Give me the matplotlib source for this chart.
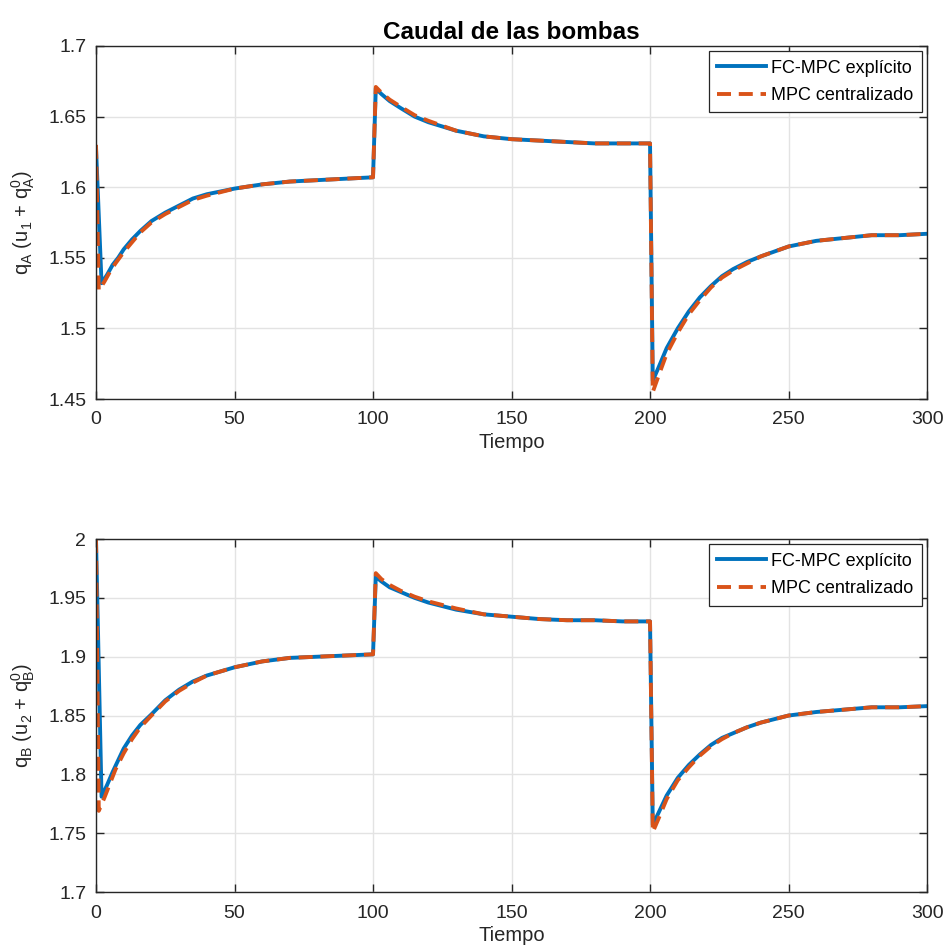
import matplotlib
matplotlib.use("Agg")
import matplotlib.pyplot as plt

plt.rcParams['font.family'] = ['Liberation Sans', 'DejaVu Sans']
plt.rcParams['mathtext.fontset'] = 'custom'
plt.rcParams['mathtext.rm'] = 'Liberation Sans'
plt.rcParams['mathtext.it'] = 'Liberation Sans'
plt.rcParams['mathtext.default'] = 'regular'

# bomba A: caudal total
t_a_fc = [0, 2, 4, 6, 8, 10, 13, 16, 20, 25, 30, 35, 40, 50, 60, 70, 80, 90, 100,
          101, 103, 106, 110, 115, 120, 130, 140, 150, 160, 170, 180, 190, 200,
          201, 203, 206, 210, 214, 218, 222, 226, 230, 235, 240, 250, 260, 270, 280, 290, 300]
qa_fc = [1.628, 1.532, 1.538, 1.545, 1.550, 1.556, 1.563, 1.569, 1.576, 1.582, 1.587, 1.592, 1.595, 1.599, 1.602, 1.604, 1.605, 1.606, 1.607,
         1.670, 1.666, 1.661, 1.656, 1.650, 1.646, 1.640, 1.636, 1.634, 1.633, 1.632, 1.631, 1.631, 1.631,
         1.463, 1.472, 1.486, 1.500, 1.512, 1.522, 1.530, 1.537, 1.542, 1.547, 1.551, 1.558, 1.562, 1.564, 1.566, 1.566, 1.567]

t_a_mpc = [0, 1, 3, 5, 7, 10, 13, 16, 20, 25, 30, 35, 40, 50, 60, 70, 80, 90, 100,
           101, 103, 106, 110, 115, 120, 130, 140, 150, 160, 170, 180, 190, 200,
           201, 203, 206, 210, 214, 218, 222, 226, 230, 235, 240, 250, 260, 270, 280, 290, 300]
qa_mpc = [1.630, 1.527, 1.533, 1.540, 1.546, 1.554, 1.561, 1.568, 1.575, 1.581, 1.586, 1.591, 1.594, 1.599, 1.602, 1.604, 1.605, 1.606, 1.607,
          1.671, 1.667, 1.662, 1.657, 1.651, 1.647, 1.640, 1.636, 1.634, 1.633, 1.632, 1.631, 1.631, 1.631,
          1.455, 1.466, 1.482, 1.497, 1.510, 1.520, 1.529, 1.536, 1.541, 1.546, 1.551, 1.558, 1.562, 1.564, 1.566, 1.566, 1.567]

# bomba B: caudal total
t_b_fc = [0, 2, 4, 6, 8, 10, 13, 16, 20, 25, 30, 35, 40, 50, 60, 70, 80, 90, 100,
          101, 103, 106, 110, 115, 120, 130, 140, 150, 160, 170, 180, 190, 200,
          201, 203, 206, 210, 214, 218, 222, 226, 230, 235, 240, 250, 260, 270, 280, 290, 300]
qb_fc = [2.000, 1.781, 1.791, 1.802, 1.812, 1.822, 1.833, 1.842, 1.851, 1.863, 1.872, 1.879, 1.884, 1.891, 1.896, 1.899, 1.900, 1.901, 1.902,
         1.968, 1.964, 1.959, 1.955, 1.950, 1.946, 1.940, 1.936, 1.934, 1.932, 1.931, 1.931, 1.930, 1.930,
         1.757, 1.767, 1.782, 1.797, 1.808, 1.817, 1.825, 1.831, 1.835, 1.840, 1.844, 1.850, 1.853, 1.855, 1.857, 1.857, 1.858]

t_b_mpc = [0, 1, 3, 5, 7, 10, 13, 16, 20, 25, 30, 35, 40, 50, 60, 70, 80, 90, 100,
           101, 103, 106, 110, 115, 120, 130, 140, 150, 160, 170, 180, 190, 200,
           201, 203, 206, 210, 214, 218, 222, 226, 230, 235, 240, 250, 260, 270, 280, 290, 300]
qb_mpc = [2.000, 1.769, 1.780, 1.792, 1.804, 1.818, 1.830, 1.840, 1.850, 1.862, 1.871, 1.878, 1.884, 1.891, 1.896, 1.899, 1.900, 1.901, 1.902,
          1.971, 1.966, 1.961, 1.956, 1.951, 1.947, 1.941, 1.936, 1.934, 1.932, 1.931, 1.931, 1.930, 1.930,
          1.751, 1.762, 1.779, 1.795, 1.806, 1.816, 1.824, 1.830, 1.835, 1.840, 1.844, 1.850, 1.853, 1.855, 1.857, 1.857, 1.858]

ticks_a = [1.45, 1.5, 1.55, 1.6, 1.65, 1.7]
ticks_b = [1.7, 1.75, 1.8, 1.85, 1.9, 1.95, 2]

azul = '#0072BD'
naranja = '#D95319'
gris = '#262626'

fig = plt.figure(figsize=(9.45, 9.5), dpi=100)
ax1 = fig.add_axes([0.1016, 0.58, 0.8794, 0.3716])
ax2 = fig.add_axes([0.1016, 0.061, 0.8794, 0.3716])

paneles = [
    (ax1, t_a_fc, qa_fc, t_a_mpc, qa_mpc, ticks_a, r'q$_A$ (u$_1$ + q$_A^0$)'),
    (ax2, t_b_fc, qb_fc, t_b_mpc, qb_mpc, ticks_b, r'q$_B$ (u$_2$ + q$_B^0$)'),
]

for ax, t1, y1, t2, y2, yt, ylab in paneles:
    ax.plot(t1, y1, color=azul, lw=2.8, label='FC-MPC explícito')
    ax.plot(t2, y2, color=naranja, lw=2.8, dashes=(3.6, 2.0), label='MPC centralizado')
    ax.set_xlim(0, 300)
    ax.set_ylim(yt[0], yt[-1])
    ax.set_yticks(yt)
    ax.set_yticklabels([('%g' % v) for v in yt])
    ax.set_xticks([0, 50, 100, 150, 200, 250, 300])
    ax.grid(True, color='#e3e3e3', lw=1.0)
    ax.set_axisbelow(True)
    ax.tick_params(direction='in', length=6, width=1.0, top=True, right=True,
                   colors=gris, labelsize=14)
    ax.tick_params(axis='x', pad=9)
    ax.tick_params(axis='y', pad=7)
    for s in ax.spines.values():
        s.set_color(gris)
        s.set_linewidth(1.0)
    ax.set_xlabel('Tiempo', fontsize=14.5, color=gris, labelpad=3)
    ax.set_ylabel(ylab, fontsize=14.5, color=gris, labelpad=8)
    leg = ax.legend(loc='upper right', fontsize=13, handlelength=2.7, handletextpad=0.3,
                    borderaxespad=0.3, borderpad=0.45, labelspacing=0.6, fancybox=False,
                    framealpha=1, edgecolor=gris)
    leg.get_frame().set_linewidth(0.9)

ax1.set_title('Caudal de las bombas', fontsize=17.5, fontweight='bold', pad=5)

fig.savefig('out.png', dpi=100)
